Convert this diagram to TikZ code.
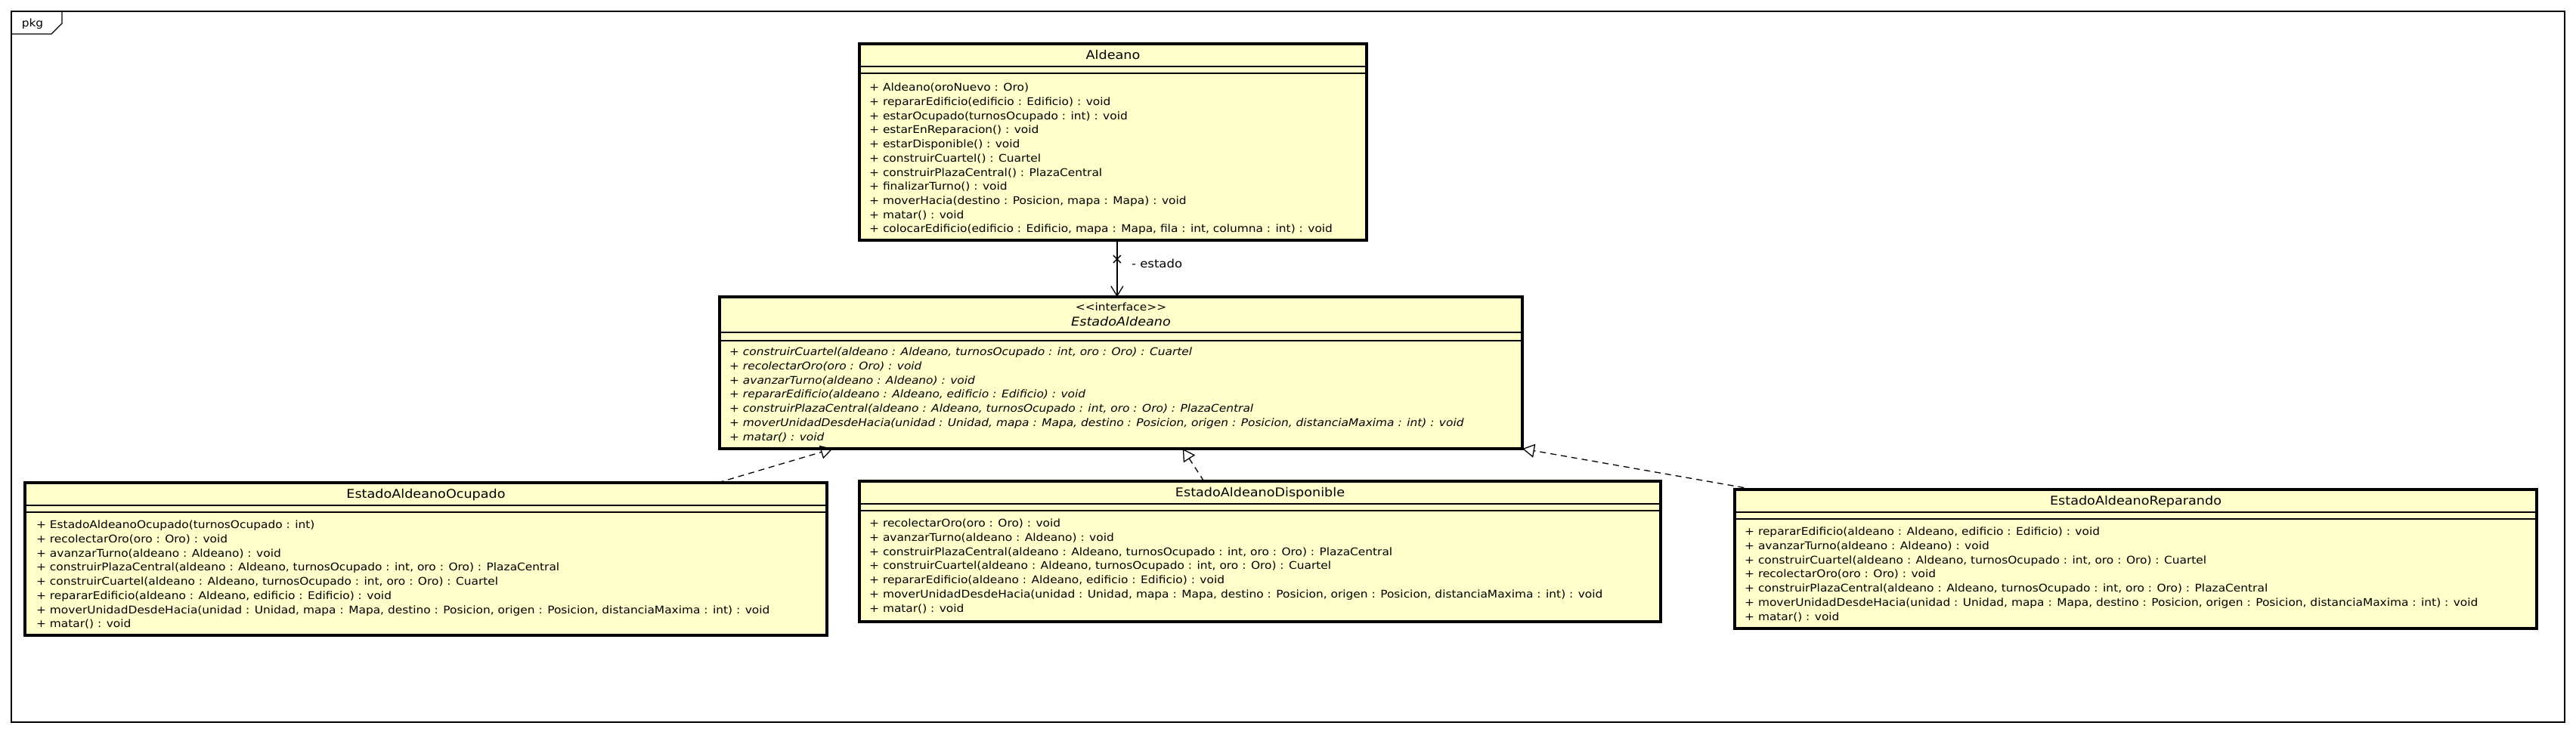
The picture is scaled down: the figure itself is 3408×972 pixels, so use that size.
\documentclass[tikz,border=0pt]{standalone}
\usepackage{fontspec}
\newfontfamily\umlfont{DejaVu Sans}[FakeStretch=1.1]
\usetikzlibrary{arrows.meta, calc}
\definecolor{classfill}{HTML}{FFFFCC}

\begin{document}
\begin{tikzpicture}[x=1pt, y=1pt,
  font=\umlfont\fontsize{14}{18.7}\selectfont,
  classbox/.style={draw, fill=classfill, line width=3.5pt, inner sep=0pt, outer sep=0pt, anchor=north west},
  sepline/.style={line width=2pt},
  classname/.style={font=\umlfont\fontsize{16}{20}\selectfont, text height=11.5pt, text depth=0pt, inner sep=0pt},
  members/.style={align=left, inner sep=0pt, anchor=north west},
  abstractops/.style={members, font=\umlfont\fontsize{14}{18.7}\selectfont\itshape},
  realize/.style={line width=1.3pt, dash pattern=on 8pt off 6pt, -{Triangle[open, length=16pt, width=18pt]}}]
  \useasboundingbox (0,0) rectangle (3408,-972);
  % package frame
  \draw[line width=1.3pt] (15,-15) rectangle (3393,-956);
  \draw[line width=1.3pt] (15,-45) -- (68,-45) -- (82,-31) -- (82,-15);
  \node[text height=8pt, text depth=0pt, inner sep=0pt] (pkg) at (43,-31) {pkg};

  % Aldeano
  \node[classbox, minimum width=671pt, minimum height=260pt] (aldeano) at (1137,-58) {};
  \draw[sepline] ([yshift=-30pt]aldeano.north west) -- ([yshift=-30pt]aldeano.north east);
  \draw[sepline] ([yshift=-39pt]aldeano.north west) -- ([yshift=-39pt]aldeano.north east);
  \node[classname] (aldeanoname) at ([yshift=-15pt]aldeano.north) {Aldeano};
  \node[members] (aldeanoops) at ([xshift=13pt, yshift=-52pt]aldeano.north west) {%
    + Aldeano(oroNuevo : Oro)\\
    + repararEdificio(edificio : Edificio) : void\\
    + estarOcupado(turnosOcupado : int) : void\\
    + estarEnReparacion() : void\\
    + estarDisponible() : void\\
    + construirCuartel() : Cuartel\\
    + construirPlazaCentral() : PlazaCentral\\
    + finalizarTurno() : void\\
    + moverHacia(destino : Posicion, mapa : Mapa) : void\\
    + matar() : void\\
    + colocarEdificio(edificio : Edificio, mapa : Mapa, fila : int, columna : int) : void};

  % EstadoAldeano
  \node[classbox, minimum width=1062pt, minimum height=201pt] (estado) at (952,-393) {};
  \draw[sepline] ([yshift=-47pt]estado.north west) -- ([yshift=-47pt]estado.north east);
  \draw[sepline] ([yshift=-58pt]estado.north west) -- ([yshift=-58pt]estado.north east);
  \node[align=center, inner sep=0pt, font=\umlfont\fontsize{16}{20}\selectfont] (estadoname) at ([yshift=-23pt]estado.north)
    {{\fontsize{14}{18.7}\selectfont <\kern0pt<interface>\kern0pt>}\\ \itshape EstadoAldeano};
  \node[abstractops] (estadoops) at ([xshift=13pt, yshift=-67pt]estado.north west) {%
    + construirCuartel(aldeano : Aldeano, turnosOcupado : int, oro : Oro) : Cuartel\\
    + recolectarOro(oro : Oro) : void\\
    + avanzarTurno(aldeano : Aldeano) : void\\
    + repararEdificio(aldeano : Aldeano, edificio : Edificio) : void\\
    + construirPlazaCentral(aldeano : Aldeano, turnosOcupado : int, oro : Oro) : PlazaCentral\\
    + moverUnidadDesdeHacia(unidad : Unidad, mapa : Mapa, destino : Posicion, origen : Posicion, distanciaMaxima : int) : void\\
    + matar() : void};

  % EstadoAldeanoOcupado
  \node[classbox, minimum width=1061pt, minimum height=202pt] (ocupado) at (33,-639) {};
  \draw[sepline] ([yshift=-30pt]ocupado.north west) -- ([yshift=-30pt]ocupado.north east);
  \draw[sepline] ([yshift=-39pt]ocupado.north west) -- ([yshift=-39pt]ocupado.north east);
  \node[classname] (ocupadoname) at ([yshift=-15pt]ocupado.north) {EstadoAldeanoOcupado};
  \node[members] (ocupadoops) at ([xshift=15pt, yshift=-50pt]ocupado.north west) {%
    + EstadoAldeanoOcupado(turnosOcupado : int)\\
    + recolectarOro(oro : Oro) : void\\
    + avanzarTurno(aldeano : Aldeano) : void\\
    + construirPlazaCentral(aldeano : Aldeano, turnosOcupado : int, oro : Oro) : PlazaCentral\\
    + construirCuartel(aldeano : Aldeano, turnosOcupado : int, oro : Oro) : Cuartel\\
    + repararEdificio(aldeano : Aldeano, edificio : Edificio) : void\\
    + moverUnidadDesdeHacia(unidad : Unidad, mapa : Mapa, destino : Posicion, origen : Posicion, distanciaMaxima : int) : void\\
    + matar() : void};

  % EstadoAldeanoDisponible
  \node[classbox, minimum width=1060pt, minimum height=186pt] (disponible) at (1137,-637) {};
  \draw[sepline] ([yshift=-30pt]disponible.north west) -- ([yshift=-30pt]disponible.north east);
  \draw[sepline] ([yshift=-39pt]disponible.north west) -- ([yshift=-39pt]disponible.north east);
  \node[classname] (disponiblename) at ([yshift=-15pt]disponible.north) {EstadoAldeanoDisponible};
  \node[members] (disponibleops) at ([xshift=13pt, yshift=-50pt]disponible.north west) {%
    + recolectarOro(oro : Oro) : void\\
    + avanzarTurno(aldeano : Aldeano) : void\\
    + construirPlazaCentral(aldeano : Aldeano, turnosOcupado : int, oro : Oro) : PlazaCentral\\
    + construirCuartel(aldeano : Aldeano, turnosOcupado : int, oro : Oro) : Cuartel\\
    + repararEdificio(aldeano : Aldeano, edificio : Edificio) : void\\
    + moverUnidadDesdeHacia(unidad : Unidad, mapa : Mapa, destino : Posicion, origen : Posicion, distanciaMaxima : int) : void\\
    + matar() : void};

  % EstadoAldeanoReparando
  \node[classbox, minimum width=1061pt, minimum height=184pt] (reparando) at (2295,-648) {};
  \draw[sepline] ([yshift=-30pt]reparando.north west) -- ([yshift=-30pt]reparando.north east);
  \draw[sepline] ([yshift=-39pt]reparando.north west) -- ([yshift=-39pt]reparando.north east);
  \node[classname] (reparandoname) at ([yshift=-15pt]reparando.north) {EstadoAldeanoReparando};
  \node[members] (reparandoops) at ([xshift=13pt, yshift=-50pt]reparando.north west) {%
    + repararEdificio(aldeano : Aldeano, edificio : Edificio) : void\\
    + avanzarTurno(aldeano : Aldeano) : void\\
    + construirCuartel(aldeano : Aldeano, turnosOcupado : int, oro : Oro) : Cuartel\\
    + recolectarOro(oro : Oro) : void\\
    + construirPlazaCentral(aldeano : Aldeano, turnosOcupado : int, oro : Oro) : PlazaCentral\\
    + moverUnidadDesdeHacia(unidad : Unidad, mapa : Mapa, destino : Posicion, origen : Posicion, distanciaMaxima : int) : void\\
    + matar() : void};

  % association Aldeano -> EstadoAldeano
  \coordinate (assoctop) at ($(aldeano.south west)!0.508!(aldeano.south east)$);
  \draw[line width=1.3pt, -{Straight Barb[length=13pt, width=16pt]}] (assoctop) -- (assoctop |- estado.north);
  \coordinate (xmark) at ([yshift=-25pt]assoctop);
  \draw[line width=1.3pt] (xmark) +(-5,-5) -- +(5,5) (xmark) +(-5,5) -- +(5,-5);
  \node[anchor=west, font=\umlfont\fontsize{15}{18}\selectfont, text height=8pt, text depth=0pt, inner sep=0pt] (estadolabel)
    at ([xshift=19pt, yshift=-32pt]assoctop) {- estado};

  % realizations
  \draw[realize] ($(ocupado.north west)!0.864!(ocupado.north east)$) -- ($(estado.south west)!0.141!(estado.south east)$);
  \draw[realize] ($(disponible.north west)!0.430!(disponible.north east)$) -- ($(estado.south west)!0.577!(estado.south east)$);
  \draw[realize] ($(reparando.north west)!0.0245!(reparando.north east)$) -- (estado.south east);
\end{tikzpicture}
\end{document}
